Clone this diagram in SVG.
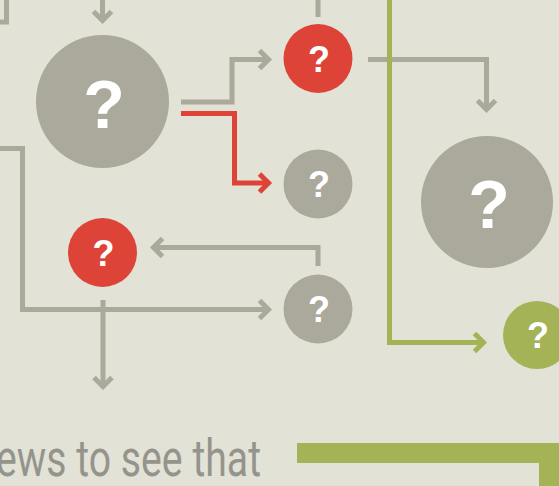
<svg xmlns="http://www.w3.org/2000/svg" width="559" height="486" viewBox="0 0 559 486">
<style>
.g{fill:#ABA89C}.r{fill:#DE4338}.gr{fill:#A3B356}
.c{fill:none;stroke-width:5;stroke-linejoin:miter}
.cg{stroke:#ABA89C}.cr{stroke:#DE4338}.cgr{stroke:#A3B356}
.q{fill:#FFFFFF;font-family:"Liberation Sans",Arial,sans-serif;font-weight:bold;text-anchor:middle}
.qb{font-size:68px}.qs{font-size:36px}
.t{fill:#95948C;font-family:Roboto,"Liberation Sans",sans-serif;font-size:52px}
</style>
<defs>
<marker id="ag" viewBox="-14 -12 18 24" markerWidth="18" markerHeight="24" refX="0" refY="0" orient="auto" markerUnits="userSpaceOnUse"><path d="M-10,-9 L-1,0 L-10,9" fill="none" stroke="#ABA89C" stroke-width="5"/></marker>
<marker id="ar" viewBox="-14 -12 18 24" markerWidth="18" markerHeight="24" refX="0" refY="0" orient="auto" markerUnits="userSpaceOnUse"><path d="M-10,-9 L-1,0 L-10,9" fill="none" stroke="#DE4338" stroke-width="5"/></marker>
<marker id="agr" viewBox="-14 -12 18 24" markerWidth="18" markerHeight="24" refX="0" refY="0" orient="auto" markerUnits="userSpaceOnUse"><path d="M-10,-9 L-1,0 L-10,9" fill="none" stroke="#A3B356" stroke-width="5"/></marker>
</defs>
<rect width="559" height="486" fill="#E2E2D7"/>
<g id="connectors">
<path class="c cg" d="M102.5,0 V21.5" marker-end="url(#ag)"/>
<path class="c cg" d="M0,22 H6.5 V0"/>
<path class="c cg" d="M0,148.5 H22.5 V309.5 H269.5" marker-end="url(#ag)"/>
<path class="c cg" d="M181,102 H232 V59.5 H269.5" marker-end="url(#ag)"/>
<path class="c cr" d="M181,113.5 H234.5 V183 H269.5" marker-end="url(#ar)"/>
<path class="c cg" d="M318,0 V17"/>
<path class="c cg" d="M368,59.5 H486.5 V110.5" marker-end="url(#ag)"/>
<path class="c cgr" d="M389.5,0 V342.5 H484.5" marker-end="url(#agr)"/>
<path class="c cg" d="M318,266 V247.5 H152.5" marker-end="url(#ag)"/>
<path class="c cg" d="M103,300 V387.5" marker-end="url(#ag)"/>
<path d="M297,453 H549 V486" fill="none" stroke="#A3B356" stroke-width="20" stroke-linejoin="miter"/>
</g>
<g id="n1"><circle class="g" cx="102.5" cy="101.5" r="66.5"/><text class="q qb" x="104" y="128">?</text></g>
<g id="n2"><circle class="r" cx="318" cy="58.5" r="34.5"/><text class="q qs" x="319" y="72">?</text></g>
<g id="n3"><circle class="g" cx="318" cy="184" r="34.5"/><text class="q qs" x="319" y="197">?</text></g>
<g id="n4"><circle class="r" cx="102.5" cy="252.5" r="34.5"/><text class="q qs" x="103.5" y="266">?</text></g>
<g id="n5"><circle class="g" cx="318" cy="309" r="34.5"/><text class="q qs" x="319" y="322">?</text></g>
<g id="n6"><circle class="g" cx="487" cy="202" r="66"/><text class="q qb" x="489" y="228">?</text></g>
<g id="n7"><circle class="gr" cx="537" cy="335" r="34"/><text class="q qs" x="538" y="348">?</text></g>
<text class="t" x="-4" y="476" textLength="265" lengthAdjust="spacingAndGlyphs">ews to see that</text>
</svg>
